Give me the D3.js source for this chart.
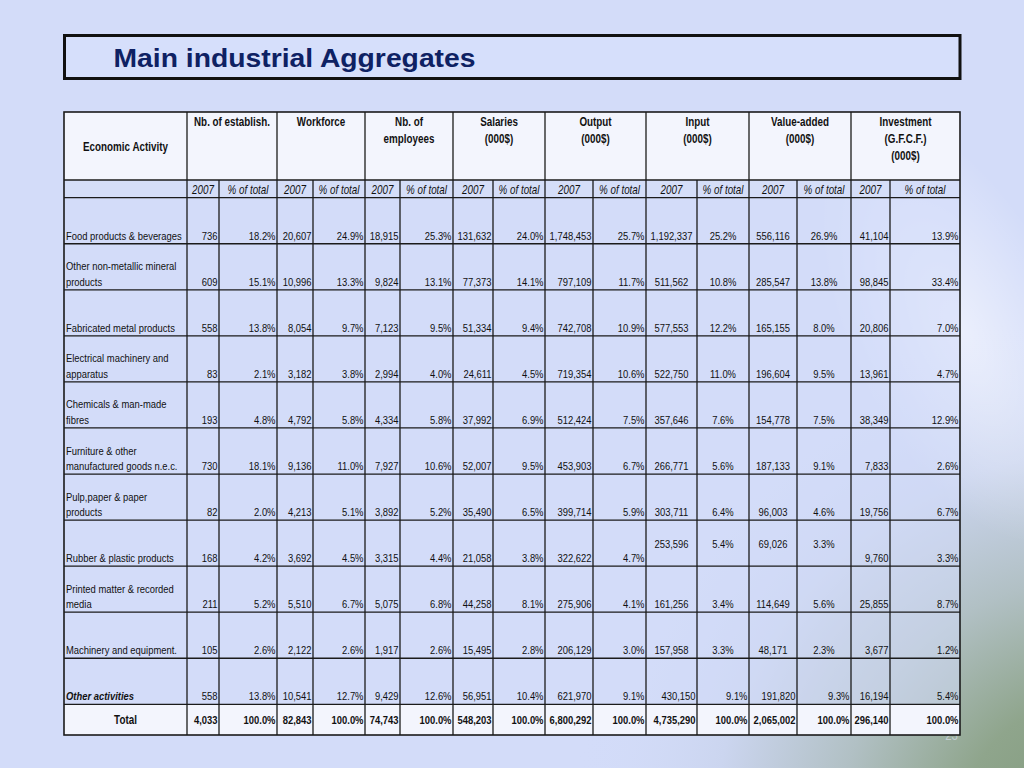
<!DOCTYPE html>
<html><head><meta charset="utf-8">
<script src="https://cdn.jsdelivr.net/npm/d3@7"></script>
<style>html,body{margin:0;padding:0;overflow:hidden;background:#d3dcf9}</style>
</head><body>
<svg id="c" width="1024" height="768"></svg>
<script>
// ---------- DATA ----------
const activities = ["Food products & beverages","Other non-metallic mineral products","Fabricated metal products",
  "Electrical machinery and apparatus","Chemicals & man-made fibres","Furniture & other manufactured goods n.e.c.",
  "Pulp,paper & paper products","Rubber & plastic products","Printed matter & recorded media",
  "Machinery and equipment.","Other activities"];
const activityLines = [["Food products & beverages"],["Other non-metallic mineral","products"],["Fabricated metal products"],
  ["Electrical machinery and","apparatus"],["Chemicals & man-made","fibres"],["Furniture & other","manufactured goods n.e.c."],
  ["Pulp,paper & paper","products"],["Rubber & plastic products"],["Printed matter & recorded","media"],
  ["Machinery and equipment."],["Other activities"]];
const establish     = [736,609,558,83,193,730,82,168,211,105,558];
const establishPct  = [18.2,15.1,13.8,2.1,4.8,18.1,2.0,4.2,5.2,2.6,13.8];
const workforce     = [20607,10996,8054,3182,4792,9136,4213,3692,5510,2122,10541];
const workforcePct  = [24.9,13.3,9.7,3.8,5.8,11.0,5.1,4.5,6.7,2.6,12.7];
const employees     = [18915,9824,7123,2994,4334,7927,3892,3315,5075,1917,9429];
const employeesPct  = [25.3,13.1,9.5,4.0,5.8,10.6,5.2,4.4,6.8,2.6,12.6];
const salaries      = [131632,77373,51334,24611,37992,52007,35490,21058,44258,15495,56951];
const salariesPct   = [24.0,14.1,9.4,4.5,6.9,9.5,6.5,3.8,8.1,2.8,10.4];
const output        = [1748453,797109,742708,719354,512424,453903,399714,322622,275906,206129,621970];
const outputPct     = [25.7,11.7,10.9,10.6,7.5,6.7,5.9,4.7,4.1,3.0,9.1];
const input         = [1192337,511562,577553,522750,357646,266771,303711,253596,161256,157958,430150];
const inputPct      = [25.2,10.8,12.2,11.0,7.6,5.6,6.4,5.4,3.4,3.3,9.1];
const valueAdded    = [556116,285547,165155,196604,154778,187133,96003,69026,114649,48171,191820];
const valueAddedPct = [26.9,13.8,8.0,9.5,7.5,9.1,4.6,3.3,5.6,2.3,9.3];
const investment    = [41104,98845,20806,13961,38349,7833,19756,9760,25855,3677,16194];
const investmentPct = [13.9,33.4,7.0,4.7,12.9,2.6,6.7,3.3,8.7,1.2,5.4];
const totals        = [4033,82843,74743,548203,6800292,4735290,2065002,296140];
const totalPct      = [100,100,100,100,100,100,100,100];
const groupHeaders  = [["Nb. of establish."],["Workforce"],["Nb. of","employees"],["Salaries","(000$)"],
  ["Output","(000$)"],["Input","(000$)"],["Value-added","(000$)"],["Investment","(G.F.C.F.)","(000$)"]];
const subHeaders    = ["2007","% of total"];
const titleText     = "Main industrial Aggregates";
const firstHeader   = "Economic Activity";
const totalLabel    = "Total";

// ---------- LAYOUT ----------
const svg = d3.select("#c");
const W = 1024, H = 768;
const valueSeries = [establish,establishPct,workforce,workforcePct,employees,employeesPct,salaries,salariesPct,
  output,outputPct,input,inputPct,valueAdded,valueAddedPct,investment,investmentPct];
const isPct = valueSeries.map((s,i)=> i%2===1);
const colKeys = d3.range(17);
const colEdges = [64,187,219,277,313,365,400,453,493,545,593,646,697,749,797,851,890,960];
const xL = d3.scaleOrdinal().domain(colKeys).range(colEdges.slice(0,17));
const xR = d3.scaleOrdinal().domain(colKeys).range(colEdges.slice(1));
const y = d3.scaleBand().domain(activities).range([197.7,704.3]).padding(0);
const tableTop = 112, headBottom = 180, subBottom = y.range()[0], totalTop = y.range()[1], tableBottom = 735;
const fmtN = d3.format(","), fmtP = v => d3.format(".1f")(v) + "%";

// background
const defs = svg.append("defs");
svg.append("rect").attr("width",W).attr("height",H).attr("fill","#d3dcf9");
const rg = defs.append("radialGradient").attr("id","bg").attr("gradientUnits","userSpaceOnUse")
  .attr("cx",1090).attr("cy",830).attr("r",520);
rg.append("stop").attr("offset","0%").attr("stop-color","#7f987a");
rg.append("stop").attr("offset","25%").attr("stop-color","#8fa58c");
rg.append("stop").attr("offset","48%").attr("stop-color","#b1c0c4");
rg.append("stop").attr("offset","72%").attr("stop-color","#cbd5ef");
rg.append("stop").attr("offset","100%").attr("stop-color","#d3dcf9").attr("stop-opacity",0);
svg.append("rect").attr("width",W).attr("height",H).attr("fill","url(#bg)");
const hl = defs.append("radialGradient").attr("id","hl").attr("gradientUnits","userSpaceOnUse")
  .attr("cx",0).attr("cy",0).attr("r",1);
hl.append("stop").attr("offset","0%").attr("stop-color","#ffffff").attr("stop-opacity",0.55);
hl.append("stop").attr("offset","100%").attr("stop-color","#ffffff").attr("stop-opacity",0);
svg.append("ellipse").attr("transform","translate(960,330) rotate(-25) scale(110,230)")
  .attr("rx",1).attr("ry",1).attr("fill","url(#hl)");

// font detection
const probe = svg.append("text").style("font-size","20px").text("Mmmm wwww industrial");
probe.style("font-family",'"Liberation Sans Narrow"');
const wN = probe.node().getComputedTextLength();
probe.style("font-family",'"Liberation Sans"');
const wS = probe.node().getComputedTextLength();
probe.remove();
const haveNarrow = wN / wS < 0.95;
const FAM = haveNarrow ? '"Liberation Sans Narrow","Arial Narrow",sans-serif' : '"Liberation Sans",Arial,sans-serif';
const SX = haveNarrow ? 1 : 0.82;

function txt(g, s, x, yy, anchor, o={}) {
  return g.append("text")
    .attr("transform",`translate(${x},${yy}) scale(${SX},1)`)
    .attr("text-anchor",anchor)
    .style("font-family",FAM)
    .style("font-size",(o.size||11.5)+"px")
    .style("font-weight",o.bold?"bold":"normal")
    .style("font-style",o.italic?"italic":"normal")
    .attr("fill",o.fill||"#111")
    .text(s);
}

// page number (faint, mostly hidden behind the table)
txt(svg,"23",958,740,"end",{size:14,fill:"#c3ccd2"});

// title box
svg.append("rect").attr("x",64.5).attr("y",35.5).attr("width",895.5).attr("height",43)
  .attr("fill","#d6dffb").attr("stroke","#111").attr("stroke-width",3);
svg.append("text").attr("x",113.5).attr("y",66.5)
  .style("font-family",'"Liberation Sans",Arial,sans-serif').style("font-size","25.5px").style("font-weight","bold")
  .attr("textLength",362).attr("lengthAdjust","spacingAndGlyphs")
  .attr("fill","#0e2163").text(titleText);

// table cell fills
const T = svg.append("g");
T.append("rect").attr("x",colEdges[0]).attr("y",tableTop).attr("width",colEdges[17]-colEdges[0]).attr("height",headBottom-tableTop).attr("fill","#f3f5fd");
T.append("rect").attr("x",colEdges[0]).attr("y",headBottom).attr("width",colEdges[17]-colEdges[0]).attr("height",subBottom-headBottom).attr("fill","#d5def8");
T.selectAll("rect.row").data(activities).join("rect").attr("class","row")
  .attr("x",colEdges[0]).attr("y",d=>y(d)).attr("width",colEdges[17]-colEdges[0]).attr("height",y.bandwidth())
  .attr("fill","#d3dcf9").attr("opacity",0.55);
T.append("rect").attr("x",colEdges[0]).attr("y",totalTop).attr("width",colEdges[17]-colEdges[0]).attr("height",tableBottom-totalTop).attr("fill","#f3f5fd");

// grid lines
const G = svg.append("g").attr("stroke","#1b1b1b").attr("stroke-width",1.3);
[headBottom, subBottom, ...activities.slice(1).map(a=>y(a)), totalTop].forEach(v=>{
  G.append("line").attr("x1",colEdges[0]).attr("x2",colEdges[17]).attr("y1",v).attr("y2",v);
});
colKeys.slice(1).forEach(k=>{
  const inner = k%2===0;
  G.append("line").attr("x1",xL(k)).attr("x2",xL(k)).attr("y1",inner?headBottom:tableTop).attr("y2",tableBottom);
});
G.append("rect").attr("x",colEdges[0]).attr("y",tableTop).attr("width",colEdges[17]-colEdges[0]).attr("height",tableBottom-tableTop)
  .attr("fill","none").attr("stroke-width",1.6);

// headers
const Hd = svg.append("g");
txt(Hd,firstHeader,(xL(0)+xR(0))/2,151,"middle",{bold:true,size:12});
groupHeaders.forEach((lines,i)=>{
  const cx = (xL(1+2*i)+xR(2+2*i))/2;
  lines.forEach((l,j)=> txt(Hd,l,cx,126+17*j,"middle",{bold:true,size:12}));
  subHeaders.forEach((s,j)=> txt(Hd,s,(xL(1+2*i+j)+xR(1+2*i+j))/2,193.5,"middle",{italic:true,size:12}));
});

// data rows
const D = svg.append("g");
activities.forEach((a,r)=>{
  const bottom = y(a)+y.bandwidth();
  const last = r===activities.length-1;
  const lines = activityLines[r];
  lines.forEach((l,j)=> txt(D,l,xL(0)+2,bottom-4-15.5*(lines.length-1-j),"start",{bold:last,italic:last}));
  valueSeries.forEach((s,ci)=>{
    const k = ci+1;
    const v = s[r];
    const str = isPct[ci] ? fmtP(v) : fmtN(v);
    const centered = ci>=10 && ci<=13 && !last;
    const top = a==="Rubber & plastic products" && ci>=10 && ci<=13;
    const yy = top ? y(a)+27.5 : bottom-4;
    if (centered) txt(D,str,(xL(k)+xR(k))/2,yy,"middle");
    else txt(D,str,xR(k)-1.5,yy,"end");
  });
});
// total row
const tb = (totalTop+tableBottom)/2+4;
txt(D,totalLabel,(xL(0)+xR(0))/2,tb,"middle",{bold:true,size:12});
totals.forEach((v,i)=>{
  txt(D,fmtN(v),xR(1+2*i)-1.5,tb,"end",{bold:true});
  txt(D,fmtP(totalPct[i]),xR(2+2*i)-1.5,tb,"end",{bold:true});
});
</script>
</body></html>
